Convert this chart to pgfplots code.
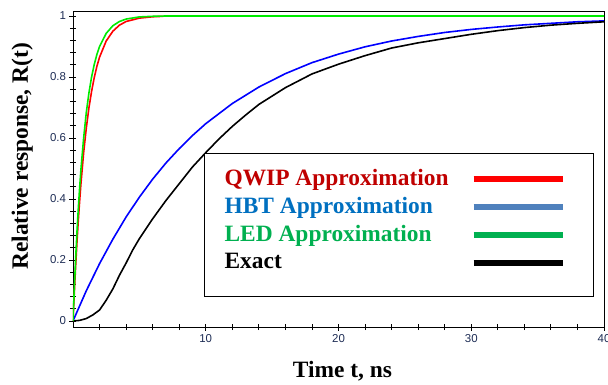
\documentclass[border=0pt]{standalone}
\usepackage{pgfplots}
\pgfplotsset{compat=1.18}
\usepackage{fontspec}
\setmainfont{Liberation Serif}
\setsansfont{Liberation Sans}
\definecolor{tickc}{RGB}{30,45,85}
\definecolor{qwiptxt}{RGB}{192,0,0}
\definecolor{hbttxt}{RGB}{0,112,192}
\definecolor{ledtxt}{RGB}{0,176,80}
\definecolor{hbtline}{RGB}{79,129,189}
\definecolor{ledline}{RGB}{0,176,80}
\definecolor{greencurve}{RGB}{0,235,0}
\begin{document}
\begin{tikzpicture}
\begin{axis}[
  scale only axis, width=531bp, height=316bp,
  xmin=0, xmax=40, ymin=-0.0197, ymax=1.0164,
  xtick={10,20,30,40}, ytick={0,0.2,0.4,0.6,0.8,1},
  minor xtick={2,4,6,8,12,14,16,18,22,24,26,28,32,34,36,38},
  minor y tick num=4,
  tick pos=left, tick align=center,
  major tick length=7bp, minor tick length=6bp,
  tick style={black, line width=0.9bp},
  axis line style={line width=0.9bp},
  ticklabel style={font=\fontsize{11.5}{13}\sffamily, text=tickc},
  /pgf/number format/assume math mode=true,
  xlabel={Time t, ns}, ylabel={Relative response, R(t)},
  label style={font=\fontsize{23.5}{28}\selectfont\bfseries},
  xlabel style={at={(rel axis cs:0.5,0)}, anchor=base, yshift=-50bp, xshift=4bp},
  ylabel style={at={(rel axis cs:0,0.54)}, anchor=base, yshift=45bp},
  legend cell align=left, legend plot pos=right,
  legend style={at={(rel axis cs:0.2467,0.5506)}, anchor=north west,
    draw=black, line width=1.2bp, fill=white,
    font=\fontsize{23.5}{28}\selectfont\bfseries,
    inner xsep=20bp, inner ysep=16bp, row sep=0bp, column sep=22bp,
    nodes={inner sep=0pt, text height=16bp, text depth=11.7bp}},
  legend image code/.code={\draw[#1] (2bp,4bp) -- (91bp,4bp); \path (99bp,4bp);},
]
\addlegendimage{line width=6bp, red}
\addlegendentry{\textcolor{qwiptxt}{QWIP Approximation}}
\addlegendimage{line width=6bp, hbtline}
\addlegendentry{\textcolor{hbttxt}{HBT Approximation}}
\addlegendimage{line width=6bp, ledline}
\addlegendentry{\textcolor{ledtxt}{LED Approximation}}
\addlegendimage{line width=6bp, black}
\addlegendentry{Exact}

% HBT approximation
\addplot[blue, line width=1.6bp, forget plot] coordinates {
(0,0) (1,0.099) (2,0.188) (3,0.268) (4,0.341) (5,0.406) (6,0.465) (7,0.518)
(8,0.565) (9,0.608) (10,0.647) (12,0.713) (14,0.767) (16,0.811) (18,0.847)
(20,0.875) (22,0.899) (24,0.918) (26,0.933) (28,0.946) (30,0.956) (32,0.964)
(34,0.971) (36,0.976) (38,0.981) (40,0.984)};
% Exact
\addplot[black, line width=1.6bp, forget plot] coordinates {
(0,0) (0.5,0.002) (1,0.008) (1.5,0.02) (2,0.036) (2.5,0.068) (3,0.105) (3.5,0.15)
(4,0.19) (4.5,0.233) (5,0.27) (6,0.335) (7,0.395) (8,0.45) (9,0.505) (10,0.552)
(11,0.597) (12,0.638) (13,0.675) (14,0.71) (16,0.765) (18,0.81) (20,0.842)
(22,0.87) (24,0.895) (26,0.912) (28,0.926) (30,0.94) (32,0.952) (34,0.962)
(36,0.97) (38,0.976) (40,0.981)};
% QWIP approximation
\addplot[red, line width=1.6bp, forget plot] coordinates {
(0,0) (0.1,0.095) (0.2,0.181) (0.3,0.259) (0.4,0.33) (0.5,0.393) (0.6,0.451)
(0.8,0.551) (1.0,0.632) (1.2,0.699) (1.4,0.753) (1.6,0.798) (1.8,0.835)
(2.0,0.865) (2.5,0.918) (3.0,0.95) (3.5,0.97) (4,0.982) (5,0.993) (6,0.9975)
(6.8,0.999)};
% LED approximation
\addplot[greencurve, line width=1.6bp, forget plot] coordinates {
(0,0) (0.1,0.108) (0.2,0.205) (0.3,0.292) (0.4,0.369) (0.5,0.437) (0.6,0.498)
(0.8,0.599) (1.0,0.683) (1.2,0.748) (1.4,0.80) (1.6,0.841) (1.8,0.874)
(2.0,0.9) (2.5,0.943) (3.0,0.968) (3.5,0.982) (4,0.99) (5,0.997) (6,0.999)
(7,1) (40,1)};
\node[font=\fontsize{6}{7}\selectfont, text=tickc] at (rel axis cs:0.5,0) [yshift=-21.5bp] {$\tau$};
\coordinate (sw) at (rel axis cs:0,0);
\coordinate (ne) at (rel axis cs:1,1);
\end{axis}
\pgfresetboundingbox
\path[use as bounding box] ([shift={(-73bp,-58bp)}]sw) rectangle ([shift={(4bp,11bp)}]ne);
\end{tikzpicture}
\end{document}
